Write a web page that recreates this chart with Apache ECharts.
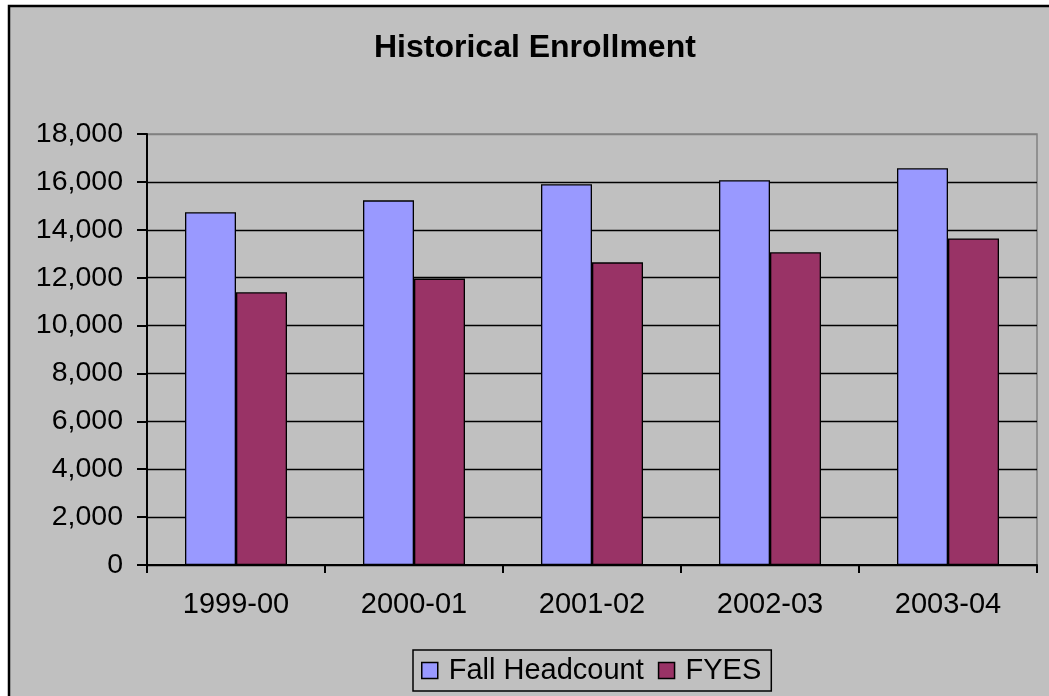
<!DOCTYPE html>
<html>
<head>
<meta charset="utf-8">
<script src="https://cdn.jsdelivr.net/npm/echarts@6/dist/echarts.min.js"></script>
<style>
html,body{margin:0;padding:0;background:#fff;}
#c{width:1049px;height:696px;}
</style>
</head>
<body>
<div id="c"></div>
<script>
var categories = ['1999-00', '2000-01', '2001-02', '2002-03', '2003-04'];
var fallHeadcount = [14730, 15230, 15900, 16070, 16570];
var fyes = [11390, 11960, 12640, 13060, 13640];
var seriesNames = ['Fall Headcount', 'FYES'];

var chart = echarts.init(document.getElementById('c'));
var font = 'Arial, "Liberation Sans", sans-serif';
var splitColors = ['#000','#000','#000','#000','#000','#000','#000','#000','#000','#808080'];

chart.setOption({
  animation: false,
  backgroundColor: '#ffffff',
  graphic: [{
    type: 'rect',
    z: -10,
    shape: {x: 9, y: 6, width: 1100, height: 800},
    style: {fill: '#c0c0c0', stroke: '#000', lineWidth: 2.5}
  }],
  title: {
    text: 'Historical Enrollment',
    left: 369,
    top: 27,
    textStyle: {fontFamily: font, fontSize: 32, fontWeight: 'bold', color: '#000'}
  },
  legend: {
    data: seriesNames,
    left: 413,
    top: 650,
    orient: 'horizontal',
    icon: 'rect',
    itemWidth: 16,
    itemHeight: 16,
    itemGap: 14,
    padding: [6, 10, 6, 8],
    borderColor: '#000',
    borderWidth: 1.5,
    textStyle: {fontFamily: font, fontSize: 29, color: '#000', padding: [0, 0, 0, 6]},
    itemStyle: {borderColor: '#000', borderWidth: 1.5}
  },
  grid: {
    left: 147, top: 134, right: 12, bottom: 131,
    show: true, borderColor: '#808080', borderWidth: 1.5, backgroundColor: 'transparent'
  },
  xAxis: {
    type: 'category',
    data: categories,
    axisLine: {lineStyle: {color: '#000', width: 2}},
    axisTick: {show: true, length: 8, lineStyle: {color: '#000', width: 2}},
    axisLabel: {fontFamily: font, fontSize: 29, color: '#000', margin: 25}
  },
  yAxis: {
    type: 'value',
    min: 0, max: 18000, interval: 2000,
    axisLine: {show: true, lineStyle: {color: '#000', width: 2}},
    axisTick: {show: true, length: 10, lineStyle: {color: '#000', width: 2}},
    axisLabel: {
      fontFamily: font, fontSize: 28.5, color: '#000', margin: 24,
      formatter: function (v) { return v.toLocaleString('en-US'); }
    },
    splitLine: {show: true, lineStyle: {color: splitColors, width: 1.3}}
  },
  series: [{
    name: seriesNames[0],
    type: 'bar',
    data: fallHeadcount,
    barGap: '0%',
    barCategoryGap: '42.7%',
    itemStyle: {color: '#9999ff', borderColor: '#000', borderWidth: 1.3}
  }, {
    name: seriesNames[1],
    type: 'bar',
    data: fyes,
    barGap: '0%',
    barCategoryGap: '42.7%',
    itemStyle: {color: '#993366', borderColor: '#000', borderWidth: 1.3}
  }]
});
</script>
</body>
</html>
